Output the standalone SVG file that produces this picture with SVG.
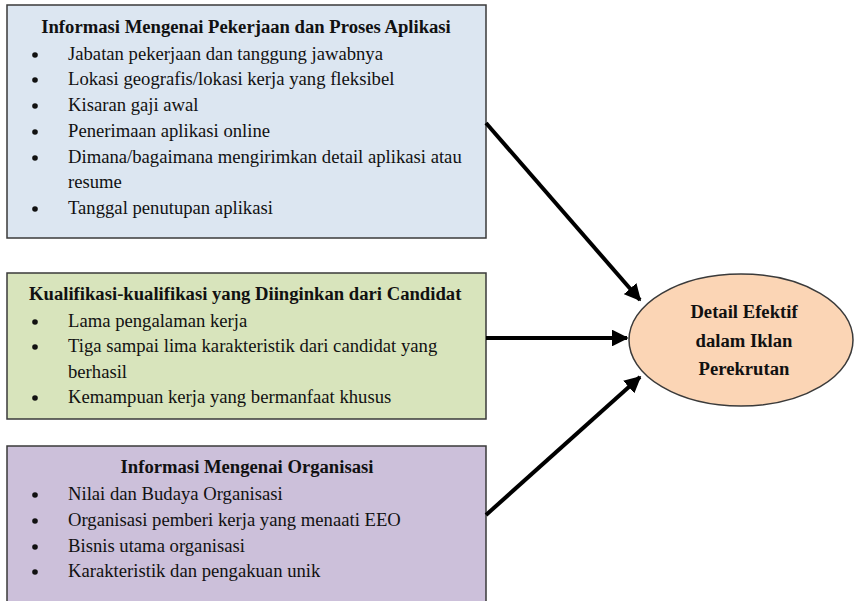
<svg xmlns="http://www.w3.org/2000/svg" width="856" height="601" viewBox="0 0 856 601">
  <style>
    .box { stroke: #3a3a3a; stroke-width: 1.5; }
    .title { font-family: "Liberation Serif", "Times New Roman", serif; font-size: 18.67px; font-weight: bold; fill: #111; }
    .item { font-family: "Liberation Serif", "Times New Roman", serif; font-size: 18.67px; fill: #111; }
    .bullet { fill: #111; }
    .conn { stroke: #000; stroke-width: 4; fill: none; marker-end: url(#head); }
  </style>
  <defs>
    <marker id="head" viewBox="0 0 10 10" refX="9" refY="5" markerWidth="4.2" markerHeight="4.2" orient="auto" markerUnits="strokeWidth">
      <path d="M0,0 L10,5 L0,10 z" fill="#000"/>
    </marker>
  </defs>
  <rect width="856" height="601" fill="#fff"/>

  <!-- Job and application process information -->
  <g id="node-job">
    <rect class="box" x="7" y="5" width="479" height="233" fill="#dce6f1"/>
    <text class="title" x="246" y="33" text-anchor="middle">Informasi Mengenai Pekerjaan dan Proses Aplikasi</text>
    <g class="bullet">
      <circle cx="35" cy="55" r="2.8"/>
      <circle cx="35" cy="80" r="2.8"/>
      <circle cx="35" cy="106" r="2.8"/>
      <circle cx="35" cy="132" r="2.8"/>
      <circle cx="35" cy="158" r="2.8"/>
      <circle cx="35" cy="209" r="2.8"/>
    </g>
    <text class="item" x="68" y="60">Jabatan pekerjaan dan tanggung jawabnya</text>
    <text class="item" x="68" y="85">Lokasi geografis/lokasi kerja yang fleksibel</text>
    <text class="item" x="68" y="111">Kisaran gaji awal</text>
    <text class="item" x="68" y="137">Penerimaan aplikasi online</text>
    <text class="item" x="68" y="163">Dimana/bagaimana mengirimkan detail aplikasi atau</text>
    <text class="item" x="68" y="188">resume</text>
    <text class="item" x="68" y="214">Tanggal penutupan aplikasi</text>
  </g>

  <!-- Desired candidate qualifications -->
  <g id="node-qual">
    <rect class="box" x="7" y="273" width="479" height="146" fill="#d8e4bc"/>
    <text class="title" x="29" y="300">Kualifikasi-kualifikasi yang Diinginkan dari Candidat</text>
    <g class="bullet">
      <circle cx="35" cy="322" r="2.8"/>
      <circle cx="35" cy="347" r="2.8"/>
      <circle cx="35" cy="398" r="2.8"/>
    </g>
    <text class="item" x="68" y="327">Lama pengalaman kerja</text>
    <text class="item" x="68" y="352">Tiga sampai lima karakteristik dari candidat yang</text>
    <text class="item" x="68" y="378">berhasil</text>
    <text class="item" x="68" y="403">Kemampuan kerja yang bermanfaat khusus</text>
  </g>

  <!-- Organisation information -->
  <g id="node-org">
    <rect class="box" x="7" y="446" width="479" height="160" fill="#ccc0da"/>
    <text class="title" x="247" y="473" text-anchor="middle">Informasi Mengenai Organisasi</text>
    <g class="bullet">
      <circle cx="35" cy="495" r="2.8"/>
      <circle cx="35" cy="521" r="2.8"/>
      <circle cx="35" cy="547" r="2.8"/>
      <circle cx="35" cy="572" r="2.8"/>
    </g>
    <text class="item" x="68" y="500">Nilai dan Budaya Organisasi</text>
    <text class="item" x="68" y="526">Organisasi pemberi kerja yang menaati EEO</text>
    <text class="item" x="68" y="552">Bisnis utama organisasi</text>
    <text class="item" x="68" y="577">Karakteristik dan pengakuan unik</text>
  </g>

  <!-- Target: effective recruitment advertisement details -->
  <g id="node-target">
    <ellipse class="box" cx="741" cy="340" rx="112" ry="66" fill="#fbd5b5"/>
    <text class="title" x="744" y="318" text-anchor="middle">Detail Efektif</text>
    <text class="title" x="744" y="347" text-anchor="middle">dalam Iklan</text>
    <text class="title" x="744" y="375" text-anchor="middle">Perekrutan</text>
  </g>

  <g id="connectors">
    <line class="conn" x1="486" y1="123" x2="640" y2="300"/>
    <line class="conn" x1="486" y1="338" x2="627" y2="338"/>
    <line class="conn" x1="486" y1="515" x2="640" y2="377"/>
  </g>
</svg>
